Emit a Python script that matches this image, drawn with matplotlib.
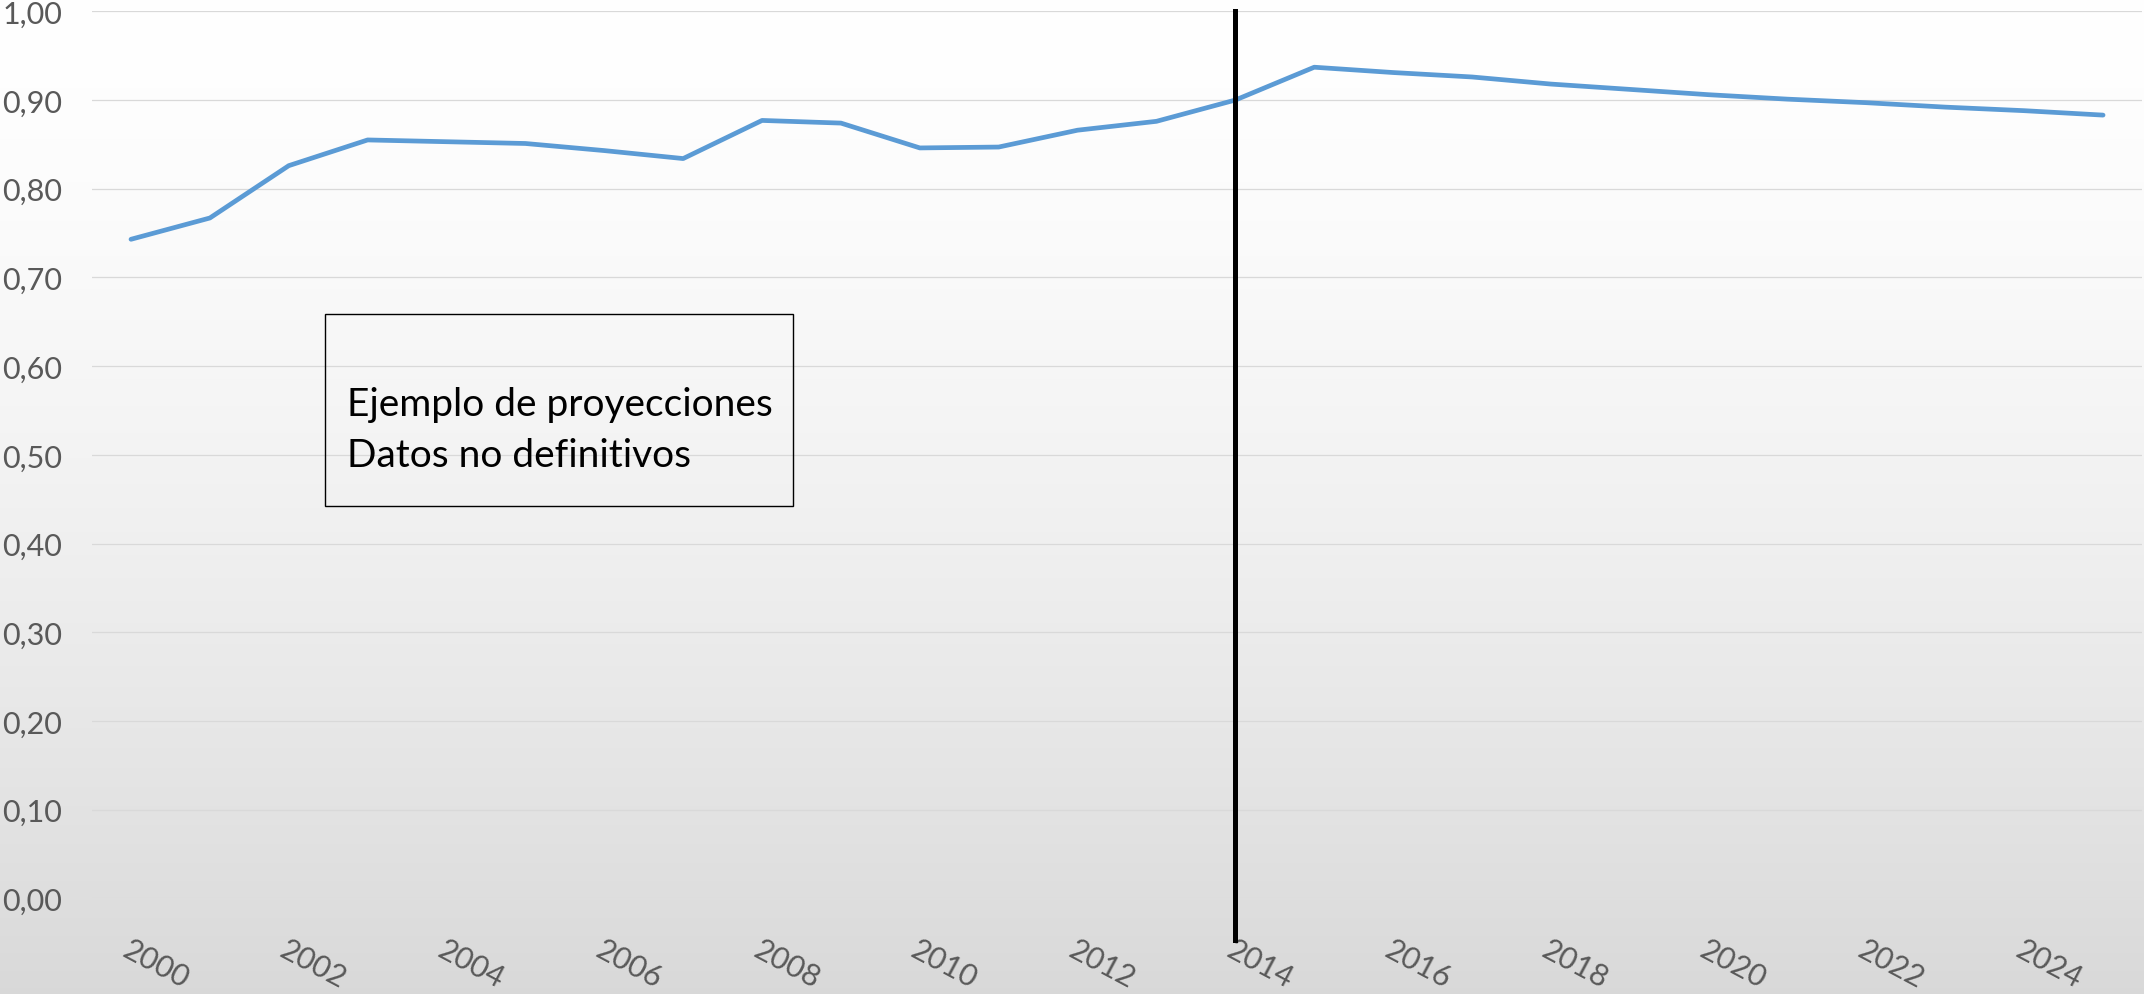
import matplotlib
matplotlib.use("Agg")
import matplotlib.pyplot as plt
import numpy as np
from matplotlib.patches import Rectangle

# Serie (2000-2014 observados, 2015-2025 proyectados)
years = list(range(2000, 2026))
values = [0.743, 0.767, 0.826, 0.855, 0.853, 0.851, 0.843, 0.834, 0.877, 0.874,
          0.846, 0.847, 0.866, 0.876, 0.900, 0.937, 0.931, 0.926, 0.918, 0.912,
          0.906, 0.901, 0.897, 0.892, 0.888, 0.883]
y_ticks = [0.0, 0.1, 0.2, 0.3, 0.4, 0.5, 0.6, 0.7, 0.8, 0.9, 1.0]
x_tick_years = years[::2]
cut_year = 2014.0
note_lines = ["Ejemplo de proyecciones", "Datos no definitivos"]

LINE_COLOR = '#5b9bd5'
TICK_COLOR = '#595959'
GRID_COLOR = '#d9d9d9'

plt.rcParams['font.family'] = ['Lato', 'DejaVu Sans']

fig = plt.figure(figsize=(21.44, 9.95), dpi=100)

# background gradient (white at top, light grey at bottom)
bg = fig.add_axes([0, 0, 1, 1], zorder=-10)
t = np.linspace(0, 1, 400)[:, None]
shade = 1 - 0.15 * t ** 1.5
bg.imshow(np.dstack([shade] * 3), aspect='auto', extent=[0, 1, 0, 1],
          origin='upper', interpolation='bilinear')
bg.axis('off')

ax = fig.add_axes([0.0427, 0.0962, 0.9566, 0.8914])
ax.set_facecolor('none')

ax.plot(years, values, color=LINE_COLOR, linewidth=3.4,
        solid_capstyle='round', solid_joinstyle='round', zorder=3)

ax.set_xlim(years[0] - 0.5, years[-1] + 0.5)
ax.set_ylim(0, 1)

ax.set_yticks(y_ticks)
ax.set_yticklabels([f"{v:.2f}".replace('.', ',') for v in y_ticks])
ax.yaxis.grid(True, color=GRID_COLOR, linewidth=0.9)
ax.set_axisbelow(True)

ax.set_xticks(x_tick_years)
ax.set_xticklabels([str(y) for y in x_tick_years], rotation=-28,
                   ha='left', va='top', rotation_mode='anchor')

ax.tick_params(axis='y', length=0, pad=21, labelsize=22, labelcolor=TICK_COLOR)
ax.tick_params(axis='x', length=0, pad=26, labelsize=22, labelcolor=TICK_COLOR)

for s in ax.spines.values():
    s.set_visible(False)

# vertical separator between observed and projected data
ax.plot([cut_year, cut_year], [1.0, -0.047], color='black', linewidth=3.6,
        clip_on=False, zorder=4)

# note box
ax.add_patch(Rectangle((0.1138, 0.442), 0.228, 0.217, transform=ax.transAxes,
                       fill=False, edgecolor='black', linewidth=1.0, zorder=5))
ax.text(0.1245, 0.545, note_lines[0], transform=ax.transAxes, fontsize=28,
        color='black', va='baseline', ha='left', zorder=6)
ax.text(0.1245, 0.487, note_lines[1], transform=ax.transAxes, fontsize=28,
        color='black', va='baseline', ha='left', zorder=6)

fig.savefig('out.png', dpi=100)
